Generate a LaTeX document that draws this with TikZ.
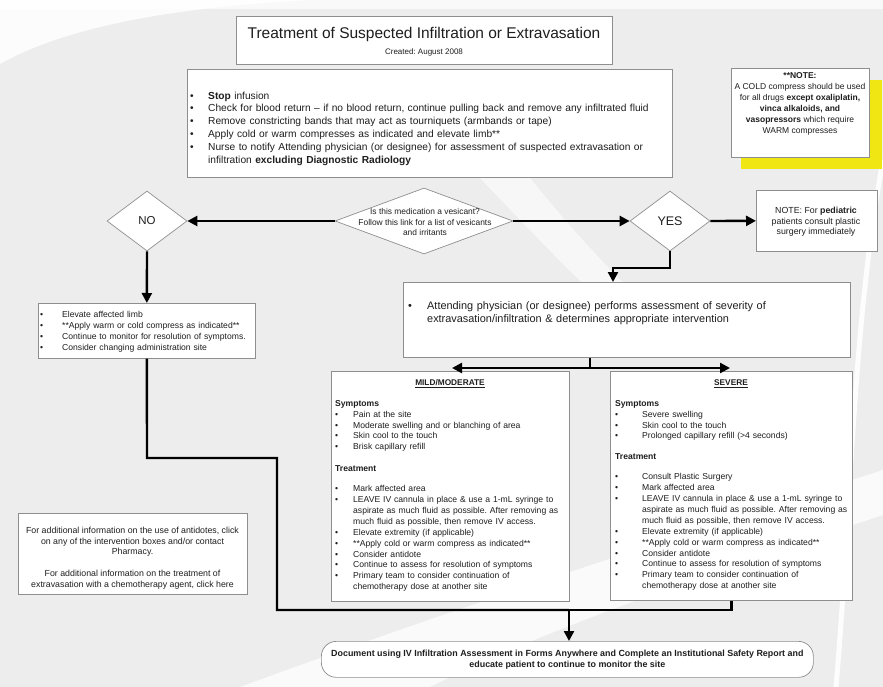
\documentclass[tikz,border=0pt]{standalone}
\usepackage{fontspec}
\setmainfont{Liberation Sans}
\usetikzlibrary{arrows.meta,shapes.geometric}

\definecolor{bggray}{HTML}{EDEDED}
\definecolor{edgegray}{HTML}{8E8E8E}
\definecolor{noteyellow}{HTML}{F0E614}
\definecolor{inkgray}{HTML}{1E1E1E}

% bullet lists with a fixed indent; \cont continues an item on a new line
\newlength{\bulind}
\newcommand{\bitem}[1]{\par\noindent\makebox[\bulind][l]{\textbullet}#1}
\newcommand{\cont}[1]{\par\noindent\hspace*{\bulind}#1}
\newcommand{\fsz}[2]{\fontsize{#1}{#2}\selectfont}

\begin{document}
\frenchspacing
\begin{tikzpicture}[x=1pt,y=-1pt,
  box/.style={draw=edgegray, fill=white, line width=0.7pt, inner sep=0pt, anchor=north west},
  dia/.style={diamond, draw=edgegray, fill=white, line width=0.7pt, inner sep=0pt},
  txt/.style={anchor=north west, inner sep=0pt, align=left, text=inkgray},
  ctxt/.style={inner sep=0pt, align=center, text=inkgray},
  conn/.style={line width=2.4pt, line join=miter, -{Triangle[length=10pt,width=10pt]}},
  wire/.style={line width=2.4pt, line join=miter},
]
\useasboundingbox (0,0) rectangle (883,687);

% background with light sweeps
\fill[bggray] (0,0) rectangle (883,687);
\fill[white, opacity=0.85] (0,0) -- (310,0) .. controls (160,8) and (60,30) .. (0,64) -- cycle;
\fill[white, opacity=0.7] (0,0) rectangle (883,9);
\fill[white, opacity=0.75] (240,687) .. controls (450,610) and (650,545) .. (883,470)
   -- (883,515) .. controls (700,575) and (520,640) .. (430,687) -- cycle;
\draw[white, line width=5pt, opacity=0.9] (883,160) .. controls (852,330) and (852,500) .. (836,687);
\fill[white, opacity=0.6] (480,178) .. controls (520,220) and (560,262) .. (600,300)
   -- (640,300) .. controls (590,250) and (560,215) .. (530,178) -- cycle;

% title
\node[box, minimum width=376pt, minimum height=48pt] (title) at (236,16) {};
\node[ctxt, font=\fsz{15.5}{18}] (titletxt) at (424,34) {Treatment of Suspected Infiltration or Extravasation};
\node[ctxt, font=\fsz{8}{9}] (created) at (424,52) {Created: August 2008};

% first actions
\node[box, minimum width=485pt, minimum height=108pt] (instr) at (187,69) {};
\node[txt, text width=480pt, font=\fsz{10.2}{12.9}] (instrtxt) at (190,86) {\setlength{\bulind}{18pt}%
\bitem{\textbf{Stop} infusion}
\bitem{Check for blood return – if no blood return, continue pulling back and remove any infiltrated fluid}
\bitem{Remove constricting bands that may act as tourniquets (armbands or tape)}
\bitem{Apply cold or warm compresses as indicated and elevate limb**}
\bitem{Nurse to notify Attending physician (or designee) for assessment of suspected extravasation or}
\cont{infiltration \textbf{excluding Diagnostic Radiology}}};

% compress note with yellow shadow
\fill[noteyellow] (741,80) rectangle (882,169);
\node[box, minimum width=138pt, minimum height=89pt] (note) at (731,68) {};
\node[ctxt, font=\fsz{8.5}{11}] (notetxt) at (800,104) {\textbf{**NOTE:}\\A COLD compress should be used\\for all drugs \textbf{except oxaliplatin,}\\\textbf{vinca alkaloids, and}\\\textbf{vasopressors} which require\\WARM compresses};

% decision row
\node[dia, minimum width=178pt, minimum height=66pt] (vq) at (424,221) {};
\node[ctxt, font=\fsz{8.4}{10.5}] (vqtxt) at (425,222) {Is this medication a vesicant?\\Follow this link for a list of vesicants\\and irritants};
\node[dia, minimum width=80pt, minimum height=60pt, font=\fsz{11.5}{13}, text=inkgray] (no) at (147,221) {NO};
\node[dia, minimum width=80pt, minimum height=60pt, font=\fsz{12.5}{14}, text=inkgray] (yes) at (670,221) {YES};
\node[box, minimum width=121pt, minimum height=61pt] (ped) at (756,190) {};
\node[ctxt, font=\fsz{8.8}{10.6}] (pedtxt) at (816,222) {NOTE: For \textbf{pediatric}\\patients consult plastic\\surgery immediately};

% non-vesicant branch
\node[box, minimum width=217pt, minimum height=55pt] (leftbox) at (38,303) {};
\node[txt, text width=215pt, font=\fsz{8.6}{10.7}] (lefttxt) at (40,307) {\setlength{\bulind}{22pt}%
\bitem{Elevate affected limb}
\bitem{**Apply warm or cold compress as indicated**}
\bitem{Continue to monitor for resolution of symptoms.}
\bitem{Consider changing administration site}};

% vesicant branch
\node[box, minimum width=447pt, minimum height=75pt] (attend) at (403,282) {};
\node[txt, text width=440pt, font=\fsz{10.9}{13}] (attendtxt) at (408,296) {\setlength{\bulind}{19pt}%
\bitem{Attending physician (or designee) performs assessment of severity of}
\cont{extravasation/infiltration \& determines appropriate intervention}};

% severity boxes
\node[box, minimum width=238pt, minimum height=230pt] (mild) at (331,371) {};
\node[ctxt, font=\bfseries\fsz{8.3}{10.9}] (mildhead) at (450,384) {\underline{MILD/MODERATE}};
\node[txt, text width=300pt, font=\fsz{8.6}{10.9}] (mildtxt) at (335,400) {\setlength{\bulind}{18pt}%
\noindent\textbf{Symptoms}
\bitem{Pain at the site}
\bitem{Moderate swelling and or blanching of area}
\bitem{Skin cool to the touch}
\bitem{Brisk capillary refill}
\par\vspace{11pt}\noindent\textbf{Treatment}\par\vspace{9pt}
\bitem{Mark affected area}
\bitem{LEAVE IV cannula in place \& use a 1-mL syringe to}
\cont{aspirate as much fluid as possible. After removing as}
\cont{much fluid as possible, then remove IV access.}
\bitem{Elevate extremity (if applicable)}
\bitem{**Apply cold or warm compress as indicated**}
\bitem{Consider antidote}
\bitem{Continue to assess for resolution of symptoms}
\bitem{Primary team to consider continuation of}
\cont{chemotherapy dose at another site}};

\node[box, minimum width=242pt, minimum height=229pt] (sev) at (610,371) {};
\node[ctxt, font=\bfseries\fsz{8.3}{10.9}] (sevhead) at (731,384) {\underline{SEVERE}};
\node[txt, text width=300pt, font=\fsz{8.6}{10.9}] (sevtxt) at (615,400) {\setlength{\bulind}{27pt}%
\noindent\textbf{Symptoms}
\bitem{Severe swelling}
\bitem{Skin cool to the touch}
\bitem{Prolonged capillary refill (>4 seconds)}
\par\vspace{10pt}\noindent\textbf{Treatment}\par\vspace{9pt}
\bitem{Consult Plastic Surgery}
\bitem{Mark affected area}
\bitem{LEAVE IV cannula in place \& use a 1-mL syringe to}
\cont{aspirate as much fluid as possible. After removing as}
\cont{much fluid as possible, then remove IV access.}
\bitem{Elevate extremity (if applicable)}
\bitem{**Apply cold or warm compress as indicated**}
\bitem{Consider antidote}
\bitem{Continue to assess for resolution of symptoms}
\bitem{Primary team to consider continuation of}
\cont{chemotherapy dose at another site}};

% extra information
\node[box, minimum width=229pt, minimum height=81pt] (info) at (18,513) {};
\node[ctxt, font=\fsz{8.8}{10.7}] (infotxt) at (132.5,558) {For additional information on the use of antidotes, click\\on any of the intervention boxes and/or contact\\Pharmacy.\\[10.7pt]For additional information on the treatment of\\extravasation with a chemotherapy agent, click here};

% final step
\node[box, rounded corners=15pt, minimum width=492pt, minimum height=36pt, align=center,
      font=\bfseries\fsz{8.9}{11}, text=inkgray] (doc) at (321,641)
  {Document using IV Infiltration Assessment in Forms Anywhere and Complete an Institutional Safety Report and\\educate patient to continue to monitor the site};

% connectors
\draw[conn] (vq.west) -- (no.east);
\draw[conn] (vq.east) -- (yes.west);
\draw[conn] (yes.east) -- (ped.west);
\draw[conn] (no.south) -- (leftbox.north);

\coordinate (yesturn) at (613,268);
\draw[conn] (yes.south) |- (yesturn) -- (yesturn |- attend.north);

\coordinate (split) at (590,368);
\coordinate (mildtip) at (452,368);
\coordinate (sevtip) at (730,368);
\draw[wire] (attend.south -| split) -- (split);
\draw[conn] (split) -- (mildtip);
\draw[conn] (split) -- (sevtip);

\coordinate (lbend) at (147,458);
\coordinate (rbend) at (277,458);
\coordinate (lowleft) at (277,610);
\coordinate (merge) at (569,610);
\draw[wire] (leftbox.south) -- (lbend) -- (rbend) -- (lowleft) -- (merge);
\draw[wire] (sev.south) |- (merge);
\draw[conn] (merge) -- (doc.north -| merge);
\end{tikzpicture}
\end{document}
